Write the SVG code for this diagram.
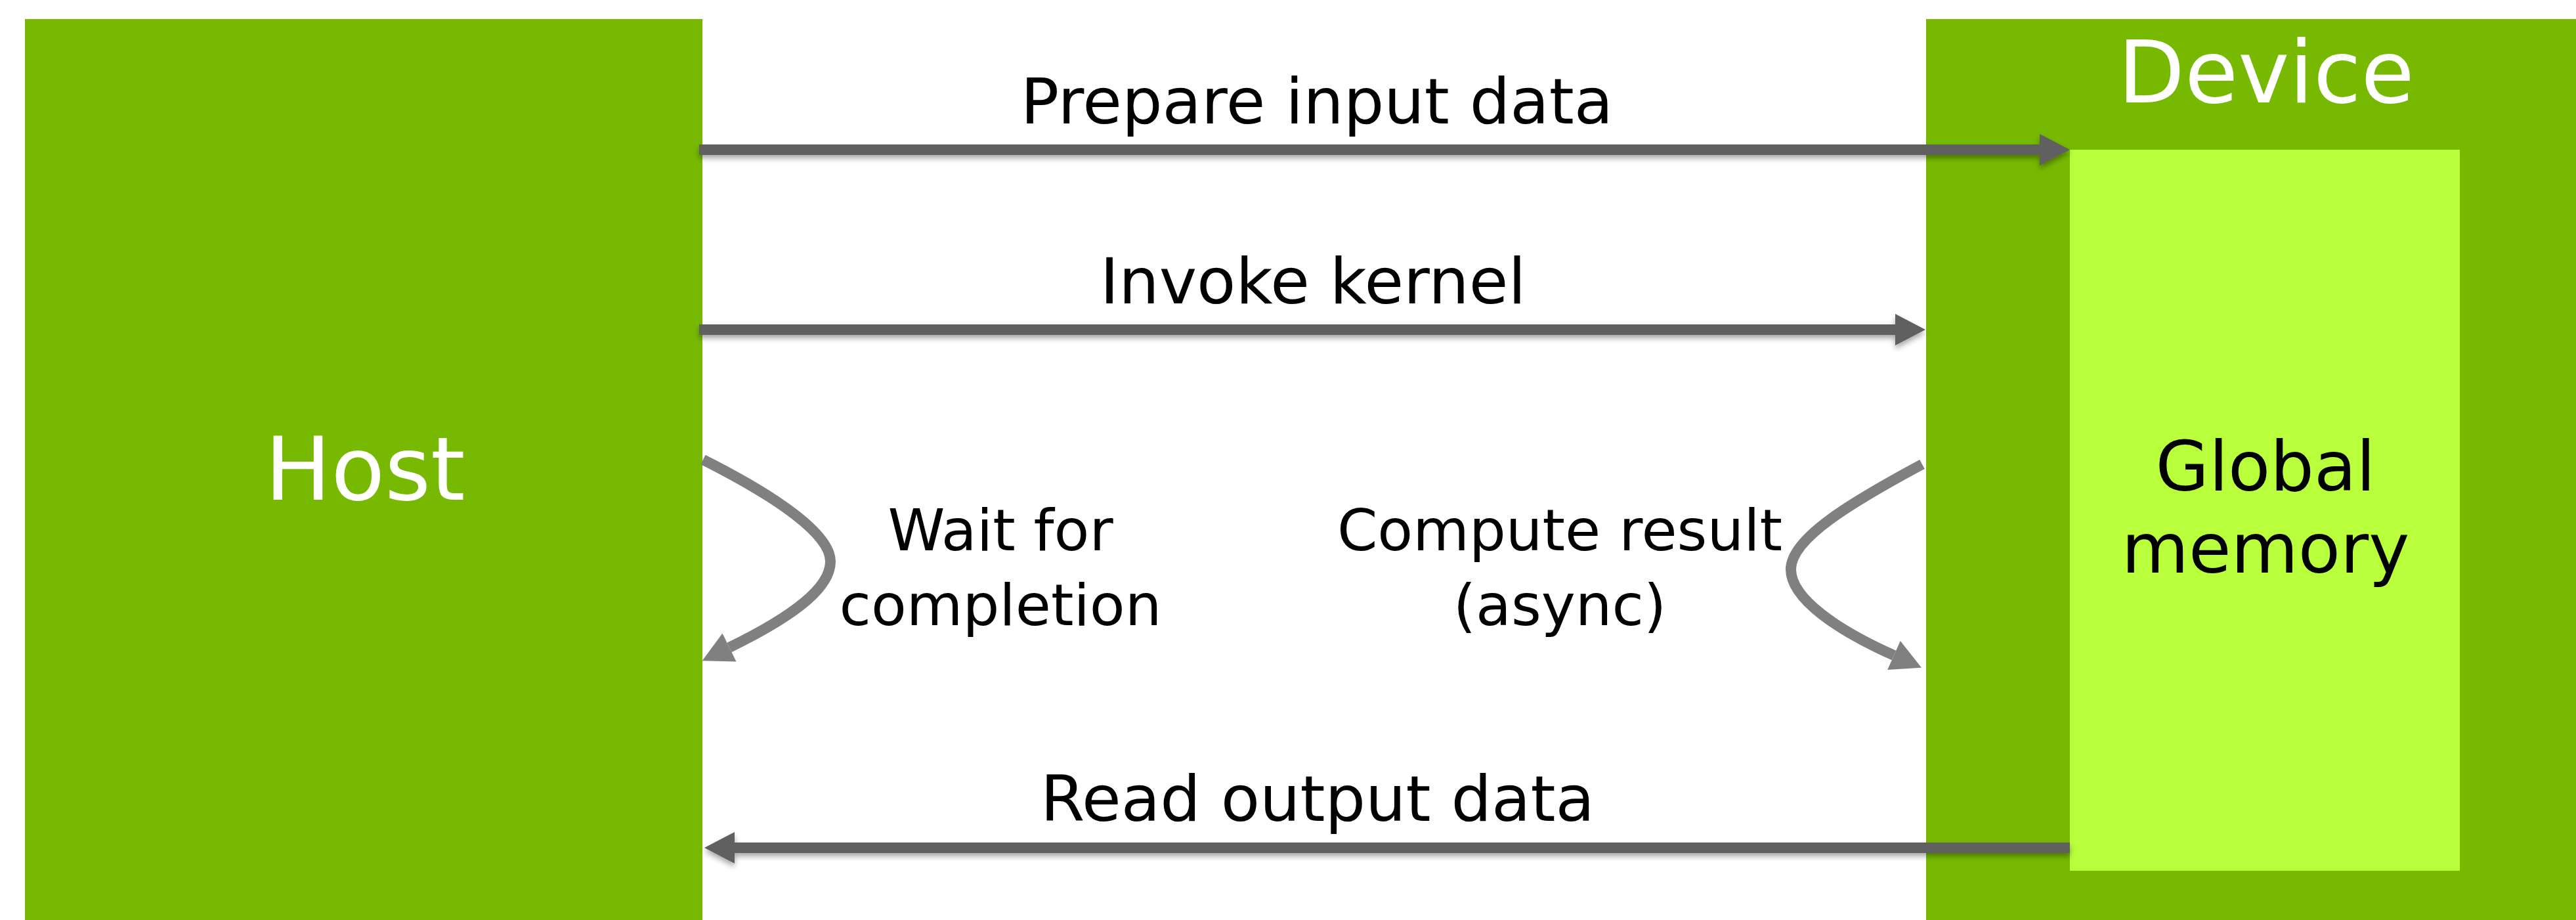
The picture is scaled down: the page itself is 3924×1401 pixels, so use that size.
<svg xmlns="http://www.w3.org/2000/svg" width="3924" height="1401" viewBox="0 0 3924 1401">
  <style>
    .box { fill: #76b900; }
    .mem { fill: #b9ff3c; }
    .title { font-family: "DejaVu Sans", sans-serif; font-size: 134px; fill: #ffffff; text-anchor: middle; }
    .memlbl { font-family: "DejaVu Sans", sans-serif; font-size: 105px; fill: #000000; text-anchor: middle; }
    .lbl { font-family: "DejaVu Sans", sans-serif; font-size: 97px; fill: #000000; text-anchor: middle; }
    .lbl2 { font-family: "DejaVu Sans", sans-serif; font-size: 88px; fill: #000000; text-anchor: middle; }
    .arrow { stroke: #606060; stroke-width: 16; fill: none; marker-end: url(#headDark); }
    .curve { stroke: #808080; stroke-width: 16; fill: none; marker-end: url(#headGrey); }
  </style>
  <defs>
    <marker id="headDark" markerUnits="userSpaceOnUse" markerWidth="48" markerHeight="48" refX="0" refY="24" orient="auto" overflow="visible">
      <path d="M0,0 L46,24 L0,48 Z" fill="#606060"/>
    </marker>
    <marker id="headGrey" markerUnits="userSpaceOnUse" markerWidth="48" markerHeight="48" refX="0" refY="24" orient="auto" overflow="visible">
      <path d="M0,0 L46,24 L0,48 Z" fill="#808080"/>
    </marker>
    <filter id="shadow" filterUnits="userSpaceOnUse" x="0" y="0" width="3924" height="1401">
      <feDropShadow dx="0" dy="5" stdDeviation="4" flood-color="#000000" flood-opacity="0.35"/>
    </filter>
  </defs>
  <rect x="0" y="0" width="3924" height="1401" fill="#ffffff"/>

  <g id="host">
    <rect class="box" x="38" y="29" width="1032" height="1372"/>
    <text class="title" x="556" y="761">Host</text>
  </g>

  <g id="device">
    <rect class="box" x="2934" y="29" width="990" height="1372"/>
    <text class="title" x="3452" y="156" style="font-size:132px">Device</text>
  </g>

  <g id="global-memory">
    <rect class="mem" x="3153" y="228" width="594" height="1098"/>
    <text class="memlbl" x="3451" y="747">Global</text>
    <text class="memlbl" x="3451" y="872">memory</text>
  </g>

  <g id="connectors">
    <g filter="url(#shadow)">
      <line class="arrow" x1="1065" y1="228" x2="3107" y2="228"/>
      <line class="arrow" x1="1065" y1="502" x2="2887" y2="502"/>
      <line class="arrow" x1="3153" y1="1291" x2="1119" y2="1291"/>
    </g>
    <path class="curve" d="M1071,700 C1190,760 1265,815 1265,855 C1265,900 1195,945 1111,986"/>
    <path class="curve" d="M2928,707 C2820,765 2728,820 2728,867 C2728,912 2800,960 2885,998"/>
  </g>

  <g id="labels">
    <text class="lbl" x="2006" y="188">Prepare input data</text>
    <text class="lbl" x="2000" y="462">Invoke kernel</text>
    <text class="lbl" x="2007" y="1250">Read output data</text>
    <text class="lbl2" x="1524" y="838">Wait for</text>
    <text class="lbl2" x="1524" y="952">completion</text>
    <text class="lbl2" x="2376" y="838">Compute result</text>
    <text class="lbl2" x="2376" y="952">(async)</text>
  </g>
</svg>
